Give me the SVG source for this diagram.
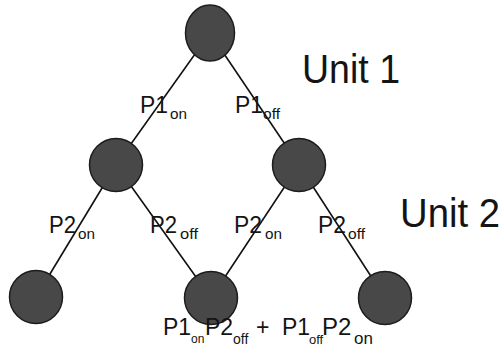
<svg xmlns="http://www.w3.org/2000/svg" width="503" height="347" viewBox="0 0 503 347">
  <style>
    .edge { stroke: #111; stroke-width: 1.6; fill: none; }
    .node { fill: #484848; stroke: #1c1c1c; stroke-width: 1.5; }
    .lbl { font-family: "Liberation Sans", Arial, sans-serif; fill: #141414; }
    .big { font-size: 24px; }
    .sub { font-size: 15px; }
    .unit { font-size: 40px; }
  </style>
  <rect width="503" height="347" fill="#ffffff"/>

  <!-- branches of the tree -->
  <g id="connectors">
    <line class="edge" x1="210" y1="33" x2="116" y2="165"/>
    <line class="edge" x1="210" y1="33" x2="299" y2="165"/>
    <line class="edge" x1="116" y1="165" x2="36" y2="297"/>
    <line class="edge" x1="116" y1="165" x2="211" y2="298"/>
    <line class="edge" x1="299" y1="165" x2="211" y2="298"/>
    <line class="edge" x1="299" y1="165" x2="385" y2="298"/>
  </g>

  <g id="root"><ellipse class="node" cx="210" cy="33" rx="24.5" ry="28"/></g>
  <g id="u1-on"><circle class="node" cx="116" cy="165" r="26.5"/></g>
  <g id="u1-off"><circle class="node" cx="299" cy="165" r="26.5"/></g>
  <g id="both-on"><circle class="node" cx="36" cy="297" r="26.5"/></g>
  <g id="one-on"><circle class="node" cx="211" cy="298" r="26.5"/></g>
  <g id="both-off"><circle class="node" cx="385" cy="298" r="26.5"/></g>

  <!-- branch labels -->
  <g id="labels">
    <text class="lbl big" x="140" y="113" textLength="28" lengthAdjust="spacingAndGlyphs">P1</text>
    <text class="lbl sub" x="170" y="119" textLength="17" lengthAdjust="spacingAndGlyphs">on</text>

    <text class="lbl big" x="235" y="113" textLength="28" lengthAdjust="spacingAndGlyphs">P1</text>
    <text class="lbl sub" x="263" y="119" textLength="17" lengthAdjust="spacingAndGlyphs">off</text>

    <text class="lbl big" x="49" y="233" textLength="27" lengthAdjust="spacingAndGlyphs">P2</text>
    <text class="lbl sub" x="78" y="239" textLength="17" lengthAdjust="spacingAndGlyphs">on</text>

    <text class="lbl big" x="150" y="233" textLength="27" lengthAdjust="spacingAndGlyphs">P2</text>
    <text class="lbl sub" x="180" y="239" textLength="18" lengthAdjust="spacingAndGlyphs">off</text>

    <text class="lbl big" x="234" y="233" textLength="28" lengthAdjust="spacingAndGlyphs">P2</text>
    <text class="lbl sub" x="265" y="239" textLength="17" lengthAdjust="spacingAndGlyphs">on</text>

    <text class="lbl big" x="318" y="233" textLength="28" lengthAdjust="spacingAndGlyphs">P2</text>
    <text class="lbl sub" x="348" y="239" textLength="17" lengthAdjust="spacingAndGlyphs">off</text>
  </g>

  <!-- outcome expression under the middle leaf, set as one line of text -->
  <g id="outcome">
    <text class="lbl"><tspan x="163" y="335" font-size="23">P1</tspan><tspan x="191" y="343" font-size="12">on</tspan><tspan x="205" y="335" font-size="23">P2</tspan><tspan x="233" y="344" font-size="14">off</tspan><tspan x="256" y="335" font-size="23">+</tspan><tspan x="282" y="335" font-size="23">P1</tspan><tspan x="309" y="344" font-size="13">off</tspan><tspan x="322" y="335" font-size="24">P2</tspan><tspan x="354" y="344" font-size="17">on</tspan></text>
  </g>

  <!-- level captions -->
  <g id="unit-captions">
    <text class="lbl unit" x="302" y="83" textLength="98" lengthAdjust="spacingAndGlyphs">Unit 1</text>
    <text class="lbl unit" x="400" y="227" textLength="100" lengthAdjust="spacingAndGlyphs">Unit 2</text>
  </g>
</svg>
